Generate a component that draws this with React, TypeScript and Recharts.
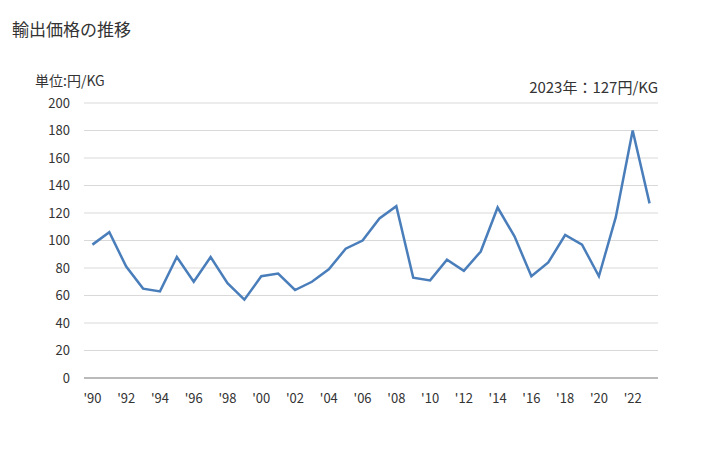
import { LineChart, Line, XAxis, YAxis, CartesianGrid } from "recharts";

const YEARS = [
  1990, 1991, 1992, 1993, 1994, 1995, 1996, 1997, 1998, 1999,
  2000, 2001, 2002, 2003, 2004, 2005, 2006, 2007, 2008, 2009,
  2010, 2011, 2012, 2013, 2014, 2015, 2016, 2017, 2018, 2019,
  2020, 2021, 2022, 2023,
];
const PRICES = [
  97, 106, 81, 65, 63, 88, 70, 88, 69, 57,
  74, 76, 64, 70, 79, 94, 100, 116, 125, 73,
  71, 86, 78, 92, 124, 103, 74, 84, 104, 97,
  74, 117, 180, 127,
];
const X_TICKS = [1990, 1992, 1994, 1996, 1998, 2000, 2002, 2004, 2006, 2008, 2010, 2012, 2014, 2016, 2018, 2020, 2022];
const Y_TICKS = [0, 20, 40, 60, 80, 100, 120, 140, 160, 180, 200];

const FONT = '"Noto Sans CJK JP", "Noto Sans", sans-serif';

const data = YEARS.map((year, i) => ({ year, price: PRICES[i] }));

export default function App() {
  return (
    <div style={{ position: "absolute", left: 0, top: 0, width: 728, height: 450, background: "#fff", fontFamily: FONT, color: "#333" }}>
      <div style={{ position: "absolute", left: 12, top: 16, fontSize: 17 }}>輸出価格の推移</div>
      <div style={{ position: "absolute", left: 35, top: 70, fontSize: 14 }}>単位:円/KG</div>
      <div style={{ position: "absolute", right: 70, top: 76, fontSize: 15 }}>2023年：127円/KG</div>
      <LineChart width={728} height={450} data={data} margin={{ top: 103, right: 70, bottom: 42, left: 0 }}>
        <CartesianGrid vertical={false} stroke="#d9d9d9" />
        <XAxis
          dataKey="year"
          type="number"
          domain={[1989.5, 2023.5]}
          ticks={X_TICKS}
          tickFormatter={(y: number) => `'${String(y).slice(2)}`}
          height={30}
          tickLine={false}
          axisLine={{ stroke: "#888" }}
          tick={{ fontSize: 13, fill: "#333", fontFamily: FONT }}
          tickMargin={10}
          interval={0}
        />
        <YAxis
          domain={[0, 200]}
          ticks={Y_TICKS}
          width={84}
          axisLine={false}
          tickLine={false}
          tickSize={0}
          tickMargin={14}
          tick={{ fontSize: 13, fill: "#333", fontFamily: FONT }}
          interval={0}
        />
        <Line
          dataKey="price"
          stroke="#4a7ebb"
          strokeWidth={2.5}
          dot={false}
          type="linear"
          isAnimationActive={false}
        />
      </LineChart>
    </div>
  );
}
